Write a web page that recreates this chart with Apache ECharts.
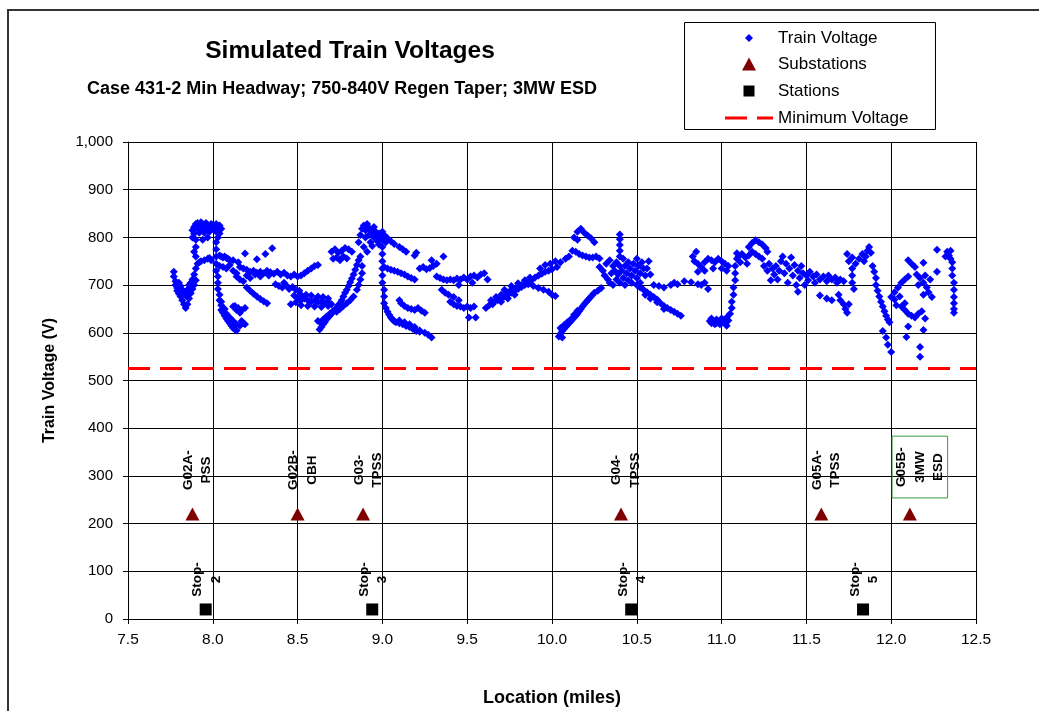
<!DOCTYPE html>
<html><head><meta charset="utf-8">
<script src="https://cdn.jsdelivr.net/npm/echarts@6/dist/echarts.min.js"></script>
<style>html,body{margin:0;padding:0;background:#fff}#chart{width:1039px;height:711px}</style>
</head><body><div id="chart"></div>
<script>
// ---------------- data ----------------
const chartTitle = 'Simulated Train Voltages';
const chartSubtitle = 'Case 431-2 Min Headway; 750-840V Regen Taper; 3MW ESD';
const xAxisTitle = 'Location (miles)';
const yAxisTitle = 'Train Voltage (V)';
const xMin = 7.5, xMax = 12.5, xStep = 0.5;
const yMin = 0, yMax = 1000, yStep = 100;

const seriesNames = ['Train Voltage', 'Substations', 'Stations', 'Minimum Voltage'];

const substationNames = ['G02A-\nPSS', 'G02B-\nCBH', 'G03-\nTPSS', 'G04-\nTPSS', 'G05A-\nTPSS', 'G05B-\n3MW\nESD'];
const substationMiles = [7.88, 8.50, 8.886, 10.407, 11.588, 12.11];
const substationMarkerVolts = 220;
const boxedSubstation = 'G05B-\n3MW\nESD';

const stationNames = ['Stop-\n2', 'Stop-\n3', 'Stop-\n4', 'Stop-\n5'];
const stationMiles = [7.958, 8.94, 10.467, 11.834];
const stationMarkerVolts = 20;

const minimumVoltage = 525;

// [location (miles), voltage (V)]
const trainVoltagePoints = [
 [7.77,728],[7.77,718],[7.78,708],[7.78,700],[7.79,694],[7.79,688],[7.80,705],[7.80,682],[7.81,676],[7.81,698],
 [7.82,668],[7.82,690],[7.83,660],[7.83,685],[7.84,652],[7.84,678],[7.85,660],[7.85,690],[7.86,672],[7.86,700],
 [7.87,683],[7.87,705],[7.88,692],[7.88,712],[7.89,700],[7.89,722],[7.90,735],[7.90,710],[7.91,745],[7.92,748],
 [7.93,750],[7.95,752],[7.97,755],[7.98,757],[7.99,752],
 [7.88,800],[7.88,815],[7.89,822],[7.89,808],[7.90,828],[7.90,795],[7.91,830],[7.91,818],[7.92,826],[7.92,810],
 [7.93,832],[7.93,820],[7.94,828],[7.94,815],[7.95,824],[7.95,810],[7.96,830],[7.96,818],[7.97,826],[7.98,822],
 [7.98,812],[7.99,828],[8.00,826],[8.00,818],[8.01,822],[8.02,828],[8.02,812],[8.03,820],[8.04,825],[8.04,808],
 [8.05,818],[8.03,800],[7.97,800],[7.94,795],[7.90,780],[7.89,770],[7.90,760],
 [8.02,790],[8.02,775],[8.02,760],[8.02,745],[8.02,730],[8.03,718],[8.03,705],[8.03,692],[8.04,680],[8.04,668],
 [8.05,658],[8.05,648],[8.06,642],[8.07,636],[8.08,630],[8.09,625],[8.10,620],[8.11,615],[8.12,610],[8.13,607],
 [8.14,605],[8.05,665],[8.07,650],[8.08,640],[8.10,632],[8.12,625],[8.14,618],[8.16,615],[8.12,655],[8.14,648],
 [8.16,642],[8.18,620],
 [8.04,762],[8.05,760],[8.06,758],[8.07,760],[8.08,757],[8.09,755],[8.10,752],[8.12,752],[8.15,748],[8.19,766],
 [8.26,754],[8.31,765],[8.35,777],
 [8.04,740],[8.06,738],[8.08,735],[8.10,742],[8.12,730],[8.14,725],[8.16,738],[8.18,735],[8.20,732],[8.22,728],
 [8.24,730],[8.26,726],[8.28,728],[8.30,725],[8.32,730],[8.34,727],[8.36,724],[8.38,728],[8.40,722],[8.42,726],
 [8.44,720],[8.46,718],[8.48,722],[8.50,718],[8.52,720],[8.54,725],[8.56,730],[8.58,735],[8.60,740],[8.62,742],
 [8.14,718],[8.16,712],[8.18,708],[8.20,720],[8.22,715],[8.25,722],[8.28,718],[8.33,720],
 [8.20,695],[8.22,688],[8.24,682],[8.26,676],[8.28,671],[8.30,666],[8.32,662],[8.13,656],[8.15,652],[8.17,648],
 [8.19,652],[8.17,625],[8.19,618],
 [8.37,702],[8.39,698],[8.41,695],[8.43,700],[8.45,692],[8.47,696],[8.49,690],[8.51,688],[8.48,678],[8.50,672],
 [8.52,668],[8.54,672],[8.56,668],[8.58,665],[8.60,668],[8.62,664],[8.64,666],[8.66,662],[8.68,665],[8.70,660],
 [8.52,680],[8.55,680],[8.58,678],[8.62,676],[8.65,675],[8.68,672],[8.46,660],[8.49,664],[8.52,658],[8.56,656],
 [8.60,655],[8.64,654],[8.68,656],[8.42,705],
 [8.63,607],[8.64,612],[8.65,618],[8.66,622],[8.67,628],[8.68,632],[8.69,636],[8.70,640],[8.71,644],[8.72,648],
 [8.73,652],[8.74,658],[8.75,662],[8.76,668],[8.77,676],[8.78,684],[8.79,690],[8.80,698],[8.81,706],[8.82,714],
 [8.83,722],[8.84,732],[8.85,742],[8.86,752],[8.87,760],[8.65,628],[8.67,634],[8.69,640],[8.71,646],[8.73,644],
 [8.75,650],[8.77,656],[8.79,662],[8.81,668],[8.83,676],[8.85,690],[8.86,700],[8.87,712],[8.88,725],[8.88,740],
 [8.62,625],[8.64,620],
 [8.86,790],[8.87,805],[8.88,818],[8.89,825],[8.90,815],[8.90,800],[8.91,828],[8.92,820],[8.92,805],[8.93,815],
 [8.93,790],[8.94,810],[8.95,822],[8.95,800],[8.96,812],[8.97,806],[8.97,792],[8.98,808],[8.99,800],[9.00,812],
 [9.00,795],[9.01,805],[9.02,790],[9.03,798],[9.05,792],[9.07,786],[8.89,780],[8.91,770],[8.94,782],[8.98,785],
 [8.70,770],[8.72,775],[8.74,768],[8.76,772],[8.78,778],[8.80,775],[8.82,770],[8.71,755],[8.73,758],[8.75,752],
 [8.77,760],[8.79,756],
 [9.00,780],[9.00,765],[9.00,750],[9.00,735],[9.00,720],[9.00,705],[9.01,690],[9.01,676],[9.01,662],[9.02,652],
 [9.03,644],[9.04,638],[9.05,632],[9.06,628],[9.07,624],[9.08,622],[9.10,620],[9.12,618],[9.14,614],[9.16,612],
 [9.18,608],[9.20,604],[9.22,602],
 [9.10,668],[9.11,662],[9.13,656],[9.15,652],[9.17,650],[9.19,648],[9.21,652],[9.23,646],[9.25,642],[9.10,626],
 [9.13,622],[9.16,618],[9.19,612],[9.22,605],[9.25,600],[9.27,596],[9.29,590],
 [9.01,738],[9.03,735],[9.05,732],[9.07,730],[9.09,728],[9.11,725],[9.13,722],[9.15,718],[9.17,715],[9.19,712],
 [9.10,780],[9.12,775],[9.14,770],[9.19,762],[9.20,768],
 [9.22,735],[9.24,738],[9.26,733],[9.28,736],[9.30,740],[9.32,745],[9.29,752],[9.36,760],
 [9.32,718],[9.34,715],[9.36,712],[9.38,710],[9.40,712],[9.42,710],[9.44,714],[9.46,712],[9.48,716],[9.50,712],
 [9.52,718],[9.54,720],[9.56,716],[9.58,722],[9.60,725],[9.62,712],[9.45,700],[9.53,705],
 [9.35,690],[9.37,684],[9.39,680],
 [9.40,665],[9.42,660],[9.44,656],[9.46,655],[9.48,652],[9.50,655],[9.52,652],[9.54,655],[9.42,675],[9.45,668],
 [9.51,632],[9.55,632],
 [9.61,652],[9.63,658],[9.65,660],[9.66,665],[9.68,668],[9.70,672],[9.72,676],[9.74,680],[9.76,684],[9.78,688],
 [9.80,692],[9.82,696],[9.84,700],[9.86,705],[9.88,710],[9.90,716],[9.92,720],[9.94,724],[9.96,728],[9.98,730],
 [10.00,733],[9.64,668],[9.67,675],[9.70,680],[9.73,686],[9.76,690],[9.79,695],[9.82,700],[9.85,705],[9.70,665],
 [9.74,672],[9.78,680],[9.72,690],[9.76,698],[9.80,704],[9.84,710],[9.87,716],
 [9.86,702],[9.89,698],[9.92,694],[9.95,690],[9.98,686],[10.00,680],[10.02,677],
 [9.93,735],[9.96,742],[9.99,745],[10.02,750],[10.05,748],[10.08,755],[10.10,760],[10.03,738],
 [10.12,772],[10.14,770],[10.16,765],[10.18,762],[10.20,760],[10.22,758],[10.24,758],[10.26,760],[10.28,756],
 [10.13,800],[10.15,812],[10.17,818],[10.19,810],[10.21,804],[10.23,798],[10.25,790],[10.15,795],
 [10.04,592],[10.05,598],[10.06,604],[10.07,608],[10.08,612],[10.09,616],[10.10,620],[10.11,624],[10.12,628],[10.13,632],
 [10.14,636],[10.15,640],[10.16,645],[10.17,650],[10.18,655],[10.19,660],[10.20,664],[10.21,668],[10.22,672],[10.23,676],
 [10.24,680],[10.25,684],[10.27,688],[10.29,694],[10.05,610],[10.07,616],[10.09,622],[10.11,628],[10.13,638],[10.15,646],
 [10.06,590],
 [10.28,738],[10.30,730],[10.31,720],[10.33,712],[10.34,705],[10.36,700],
 [10.32,745],[10.34,752],[10.36,740],[10.37,730],[10.38,748],[10.39,722],[10.40,740],[10.41,730],[10.42,715],[10.42,755],
 [10.43,740],[10.44,725],[10.45,710],[10.45,748],[10.46,735],[10.47,720],[10.48,745],[10.49,730],[10.50,715],[10.50,755],
 [10.51,740],[10.52,725],[10.53,748],[10.54,735],[10.55,720],[10.38,712],[10.40,705],[10.35,725],[10.43,700],[10.47,705],
 [10.52,705],[10.57,750],[10.56,735],[10.58,722],
 [10.40,760],[10.40,772],[10.40,784],[10.40,796],[10.40,806],
 [10.50,700],[10.52,695],[10.54,690],[10.56,685],[10.58,680],[10.60,675],[10.62,670],[10.64,662],[10.66,656],[10.68,652],
 [10.70,648],[10.72,644],[10.74,640],[10.76,636],[10.55,680],[10.58,672],[10.62,664],[10.66,650],
 [10.60,700],[10.63,698],[10.66,695],[10.70,700],[10.72,705],[10.74,702],[10.78,708],[10.82,706],[10.86,702],
 [10.88,700],[10.90,705],[10.92,692],
 [10.83,760],[10.84,750],[10.86,745],[10.88,738],[10.90,748],[10.92,755],[10.94,752],[10.96,748],[10.98,755],[11.00,750],
 [11.02,745],[11.04,740],[10.86,728],[10.90,730],[10.95,735],[11.00,735],[11.03,730],[10.85,770],
 [10.93,625],[10.94,620],[10.95,622],[10.96,618],[10.97,620],[10.98,622],[10.99,618],[11.00,620],[11.01,624],[11.02,628],
 [11.03,632],[11.04,626],[10.94,630],[10.97,628],[11.00,630],[11.03,615],
 [11.05,640],[11.06,652],[11.06,665],[11.07,680],[11.07,695],[11.08,710],[11.08,725],[11.08,740],[11.09,755],[11.09,767],
 [11.10,760],[11.12,765],[11.14,758],[11.16,762],[11.18,770],[11.20,765],[11.22,760],[11.24,755],[11.11,748],[11.15,745],
 [11.16,780],[11.18,788],[11.20,794],[11.22,790],[11.24,785],[11.26,778],[11.27,770],
 [11.25,740],[11.27,730],[11.28,745],[11.30,735],[11.31,722],[11.32,740],[11.34,730],[11.35,750],[11.36,760],[11.37,725],
 [11.38,745],[11.40,735],[11.41,758],[11.42,720],[11.43,742],[11.45,730],[11.46,715],[11.47,740],[11.48,725],[11.50,720],
 [11.51,710],[11.52,728],[11.54,718],[11.55,705],[11.56,722],[11.58,712],[11.60,718],[11.62,708],[11.63,720],[11.65,712],
 [11.67,716],[11.68,705],[11.70,712],[11.72,708],[11.29,710],[11.33,712],[11.39,705],[11.44,700],[11.49,700],
 [11.45,686],[11.58,678],[11.62,672],[11.65,668],
 [11.69,680],[11.70,668],[11.72,660],[11.73,650],[11.74,642],[11.75,660],
 [11.74,765],[11.75,750],[11.77,758],[11.79,745],[11.81,755],[11.83,765],[11.85,760],[11.86,772],[11.87,780],[11.88,768],
 [11.84,750],
 [11.77,735],[11.77,720],[11.77,705],[11.78,692],
 [11.89,740],[11.90,728],[11.91,715],[11.91,700],[11.92,688],[11.93,676],[11.94,665],[11.95,655],[11.96,645],[11.97,636],
 [11.98,628],[11.99,622],
 [11.95,604],[11.97,590],[11.98,575],[12.00,560],
 [12.00,675],[12.02,685],[12.04,695],[12.06,705],[12.08,712],[12.10,718],[12.02,670],[12.05,676],
 [12.03,658],[12.06,655],[12.08,662],
 [12.10,752],[12.12,745],[12.14,738],
 [12.08,648],[12.10,640],[12.12,636],[12.14,632],[12.16,640],[12.18,645],[12.20,630],
 [12.09,591],[12.10,613],[12.17,570],[12.17,550],[12.19,606],[12.19,747],
 [12.15,722],[12.17,715],[12.19,705],[12.21,695],[12.22,685],[12.24,675],[12.20,720],[12.23,712],[12.16,700],[12.19,680],
 [12.27,774],[12.27,728],
 [12.33,770],[12.34,762],[12.35,755],[12.36,748],[12.36,735],[12.36,720],[12.37,705],[12.37,690],[12.37,675],[12.37,662],
 [12.37,650],[12.37,642],[12.35,772],[12.32,760]
];

// ---------------- chart ----------------
const FONT = '"Liberation Sans", Arial, Helvetica, sans-serif';
const chart = echarts.init(document.getElementById('chart'), null, {renderer: 'canvas'});

// label offsets are given in the label's rotated frame: [-(screen dy), screen dx]
const substationData = substationNames.map((n, i) => ({
  name: n,
  value: [substationMiles[i], substationMarkerVolts],
  label: n === boxedSubstation ? {borderColor: '#3c9a3c', borderWidth: 1, padding: [0, 11, 0, 11], offset: [47, 10]} : undefined
}));
const stationData = stationNames.map((n, i) => ({name: n, value: [stationMiles[i], stationMarkerVolts]}));

const rotatedLabel = {
  show: true, position: 'inside', rotate: 90, formatter: p => p.name,
  fontFamily: FONT, fontWeight: 'bold', fontSize: 13.5, lineHeight: 18.5, color: '#000', opacity: 1,
  align: 'center', verticalAlign: 'middle'
};

const legendText = {fontFamily: FONT, fontSize: 17, color: '#000'};

const option = {
  animation: false,
  backgroundColor: '#ffffff',
  grid: {left: 128, right: 63, top: 142, bottom: 92, containLabel: false, outerBoundsMode: 'none'},
  xAxis: {
    type: 'value', min: xMin, max: xMax, interval: xStep,
    name: xAxisTitle, nameLocation: 'middle', nameGap: 70,
    nameTextStyle: {fontFamily: FONT, fontSize: 18, fontWeight: 'bold', color: '#000'},
    axisLine: {show: true, onZero: false, lineStyle: {color: '#000', width: 1}},
    axisTick: {show: true, length: 5, lineStyle: {color: '#000'}},
    axisLabel: {color: '#000', fontFamily: FONT, fontSize: 15.5, margin: 13, formatter: v => v.toFixed(1)},
    splitLine: {show: true, lineStyle: {color: '#000', width: 1}}
  },
  yAxis: {
    type: 'value', min: yMin, max: yMax, interval: yStep,
    name: yAxisTitle, nameLocation: 'middle', nameGap: 70, nameRotate: 90,
    nameTextStyle: {fontFamily: FONT, fontSize: 16, fontWeight: 'bold', color: '#000'},
    axisLine: {show: true, onZero: false, lineStyle: {color: '#000', width: 1}},
    axisTick: {show: true, length: 5, lineStyle: {color: '#000'}},
    axisLabel: {color: '#000', fontFamily: FONT, fontSize: 15, margin: 15, formatter: v => v.toLocaleString('en-US')},
    splitLine: {show: true, lineStyle: {color: '#000', width: 1}}
  },
  legend: [
    {data: [{name: seriesNames[0], icon: 'diamond', itemStyle: {color: '#0000ff', opacity: 1}}], left: 745, top: 29.5, itemWidth: 8, itemHeight: 8, padding: 0, selectedMode: false, textStyle: Object.assign({padding: [0, 0, 0, 20]}, legendText)},
    {data: [{name: seriesNames[1], icon: 'triangle', itemStyle: {color: '#800000', opacity: 1}}], left: 742, top: 55.5, itemWidth: 14, itemHeight: 13, padding: 0, selectedMode: false, textStyle: Object.assign({padding: [0, 0, 0, 17]}, legendText)},
    {data: [{name: seriesNames[2], icon: 'rect', itemStyle: {color: '#000000', opacity: 1}}], left: 743.5, top: 82.5, itemWidth: 11, itemHeight: 11, padding: 0, selectedMode: false, textStyle: Object.assign({padding: [0, 0, 0, 18.5]}, legendText)},
    {data: [{name: seriesNames[3], icon: 'path://M0,0h22v3h-22zM32,0h16v3h-16z', itemStyle: {color: '#ff0000', opacity: 1}}], left: 725, top: 109.5, itemWidth: 48, itemHeight: 3, padding: 0, selectedMode: false, textStyle: legendText}
  ],
  graphic: [
    {type: 'rect', shape: {x: 8, y: 10, width: 1100, height: 800}, style: {fill: 'none', stroke: '#333', lineWidth: 2}, silent: true, z: -1},
    {type: 'rect', shape: {x: 684.5, y: 22.5, width: 251, height: 107}, style: {fill: 'none', stroke: '#000', lineWidth: 1}, silent: true},
    {type: 'text', x: 350, y: 39, style: {text: chartTitle, font: 'bold 24.5px ' + FONT, fill: '#000', align: 'center', verticalAlign: 'top'}},
    {type: 'text', x: 342, y: 80, style: {text: chartSubtitle, font: 'bold 18px ' + FONT, fill: '#000', align: 'center', verticalAlign: 'top'}}
  ],
  series: [
    {
      name: seriesNames[3], type: 'line', data: [[xMin, minimumVoltage], [xMax, minimumVoltage]],
      symbol: 'none', color: '#ff0000', lineStyle: {color: '#ff0000', width: 3, type: [22, 10]}, z: 1, silent: true
    },
    {
      name: seriesNames[0], type: 'scatter', data: trainVoltagePoints,
      symbol: 'diamond', symbolSize: 8, itemStyle: {color: '#0000ff', opacity: 1}, z: 2, silent: true
    },
    {
      name: seriesNames[1], type: 'scatter', data: substationData,
      symbol: 'triangle', symbolSize: [14, 13], itemStyle: {color: '#800000', opacity: 1}, z: 3, silent: true,
      label: Object.assign({}, rotatedLabel, {offset: [44, 5]})
    },
    {
      name: seriesNames[2], type: 'scatter', data: stationData,
      symbol: 'rect', symbolSize: 12, itemStyle: {color: '#000000', opacity: 1}, z: 3, silent: true,
      label: Object.assign({}, rotatedLabel, {offset: [30, 1]})
    }
  ]
};
chart.setOption(option);
</script>
</body></html>
